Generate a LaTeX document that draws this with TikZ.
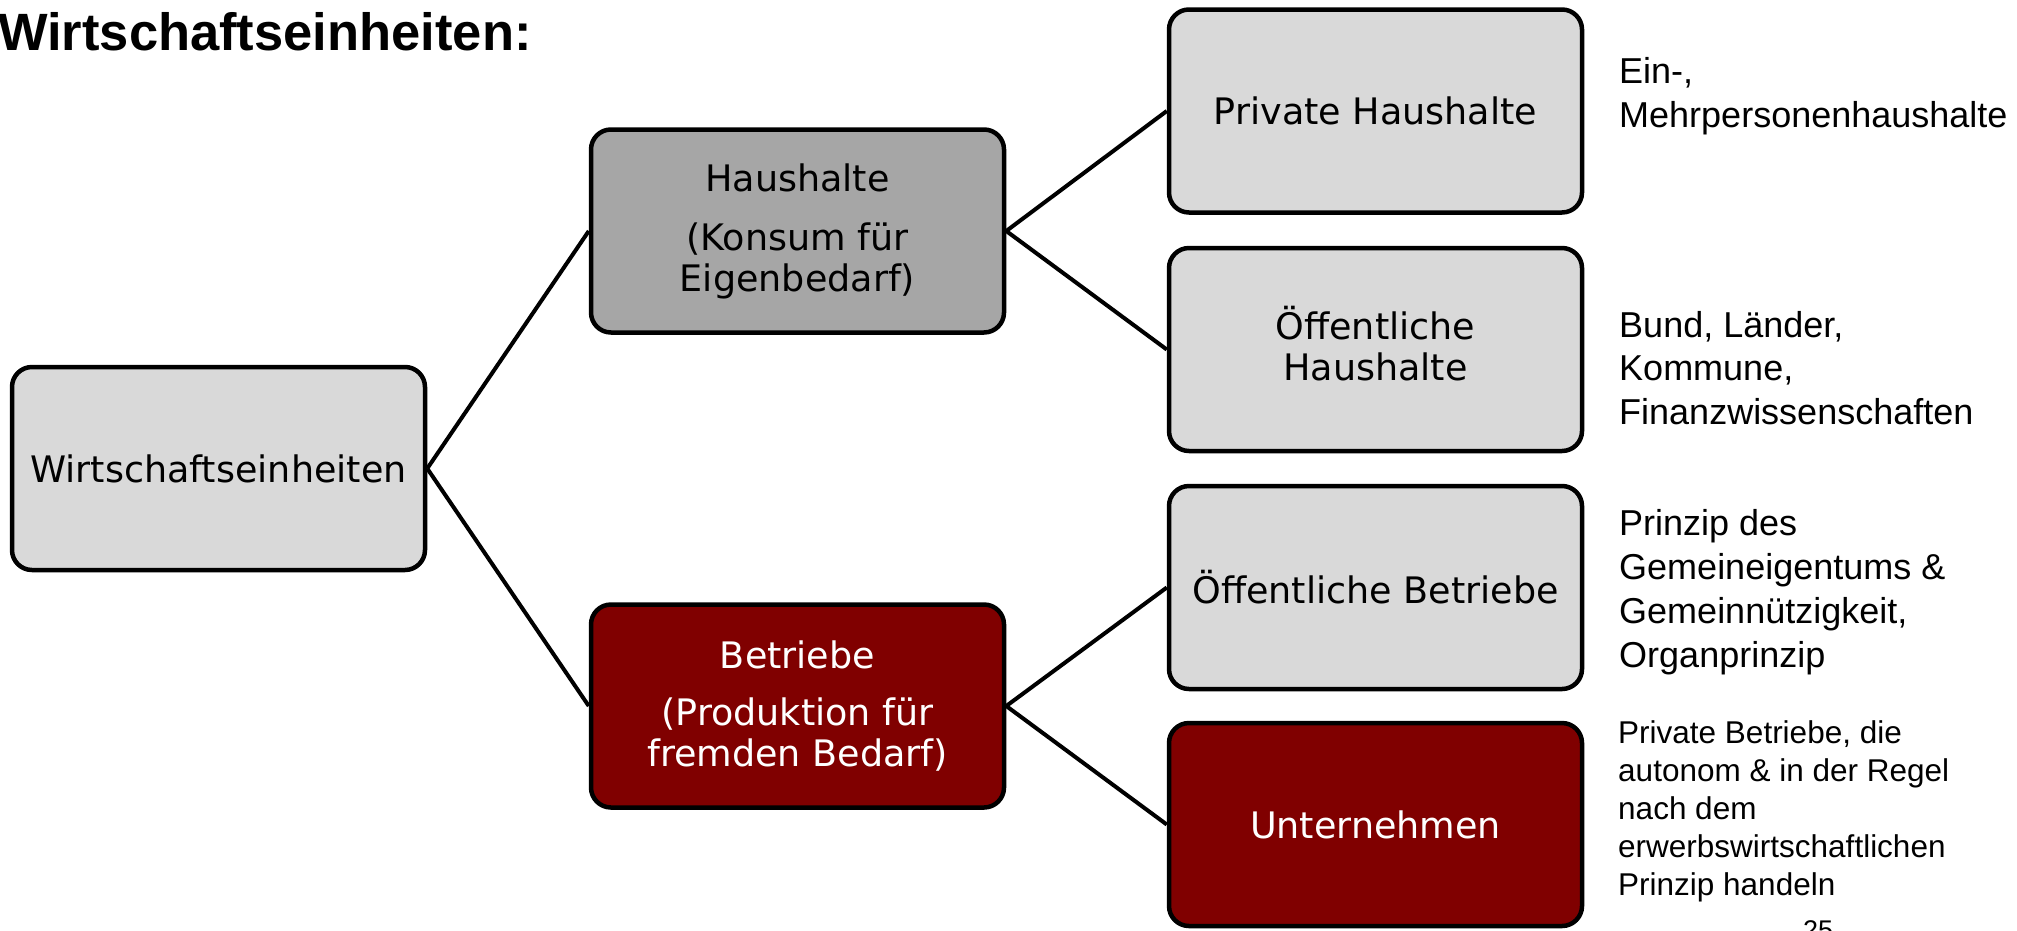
\documentclass[tikz,border=0pt]{standalone}
\usepackage{fontspec}
\usepackage{tikz}
\setmainfont{Liberation Sans}
\newfontfamily\boxfont{DejaVu Sans}
\definecolor{lightbox}{HTML}{D9D9D9}
\definecolor{midbox}{HTML}{A6A6A6}
\definecolor{darkbox}{HTML}{800000}
\tikzstyle{unitbox}=[draw=black,line width=4.5pt,rounded corners=20pt,fill=lightbox,minimum width=413pt,minimum height=203pt,inner sep=0pt,align=center,font=\boxfont\fontsize{36.5}{41}\selectfont]
\tikzstyle{midunit}=[unitbox,fill=midbox]
\tikzstyle{redunit}=[unitbox,fill=darkbox,text=white]
\tikzstyle{note}=[anchor=base west,inner sep=0pt,align=left,font=\fontsize{36}{43.5}\selectfont]
\tikzstyle{smallnote}=[note,font=\fontsize{31.5}{38}\selectfont]
\tikzstyle{branch}=[line width=4pt]
\newcommand{\tikzpicunit}{1pt}

\begin{document}
\begin{tikzpicture}[x=\tikzpicunit,y=-\tikzpicunit]
    \useasboundingbox (0,0) rectangle (2017,930);
    \clip (0,0) rectangle (2017,930);
    \node[anchor=base west,inner sep=0pt,font=\bfseries\fontsize{52.5}{56}\selectfont] (title) at (-2,50) {Wirtschaftseinheiten:};
    % left column
    \node[unitbox] (we) at (218.5,468.5) {Wirtschaftseinheiten};
    \node[midunit] (hh) at (797.5,231) {\fontsize{36.5}{38}\selectfont Haushalte\\[18pt](Konsum für\\Eigenbedarf)};
    \node[redunit] (be) at (797.5,706) {\fontsize{36.5}{40}\selectfont Betriebe\\[16pt](Produktion für\\fremden Bedarf)};
    % right column
    \node[unitbox] (phh) at (1375.5,111)   {Private Haushalte};
    \node[unitbox] (ohh) at (1375.5,349.5) {Öffentliche\\Haushalte\\[-28pt]};
    \node[unitbox] (obe) at (1375.5,587.5) {Öffentliche Betriebe};
    \node[redunit] (unt) at (1375.5,824.5) {Unternehmen};
    \draw[branch] (we.east) -- (hh.west);
    \draw[branch] (we.east) -- (be.west);
    \draw[branch] (hh.east) -- (phh.west);
    \draw[branch] (hh.east) -- (ohh.west);
    \draw[branch] (be.east) -- (obe.west);
    \draw[branch] (be.east) -- (unt.west);
    % notes (placed at the baseline of their last line)
    \node[note] (nphh) at (1619,127) {Ein-,\\Mehrpersonenhaushalte};
    \node[note] (nohh) at (1619,424) {Bund, Länder,\\Kommune,\\Finanzwissenschaften};
    \node[note,font=\fontsize{36}{44}\selectfont] (nobe) at (1619,667) {Prinzip des\\Gemeineigentums \&\\Gemeinnützigkeit,\\Organprinzip};
    \node[smallnote] (nunt) at (1618,895) {Private Betriebe, die\\autonom \& in der Regel\\nach dem\\erwerbswirtschaftlichen\\Prinzip handeln};
    \node[anchor=base west,inner sep=0pt,font=\fontsize{27}{30}\selectfont] (page) at (1803,939.5) {25};
\end{tikzpicture}
\end{document}
